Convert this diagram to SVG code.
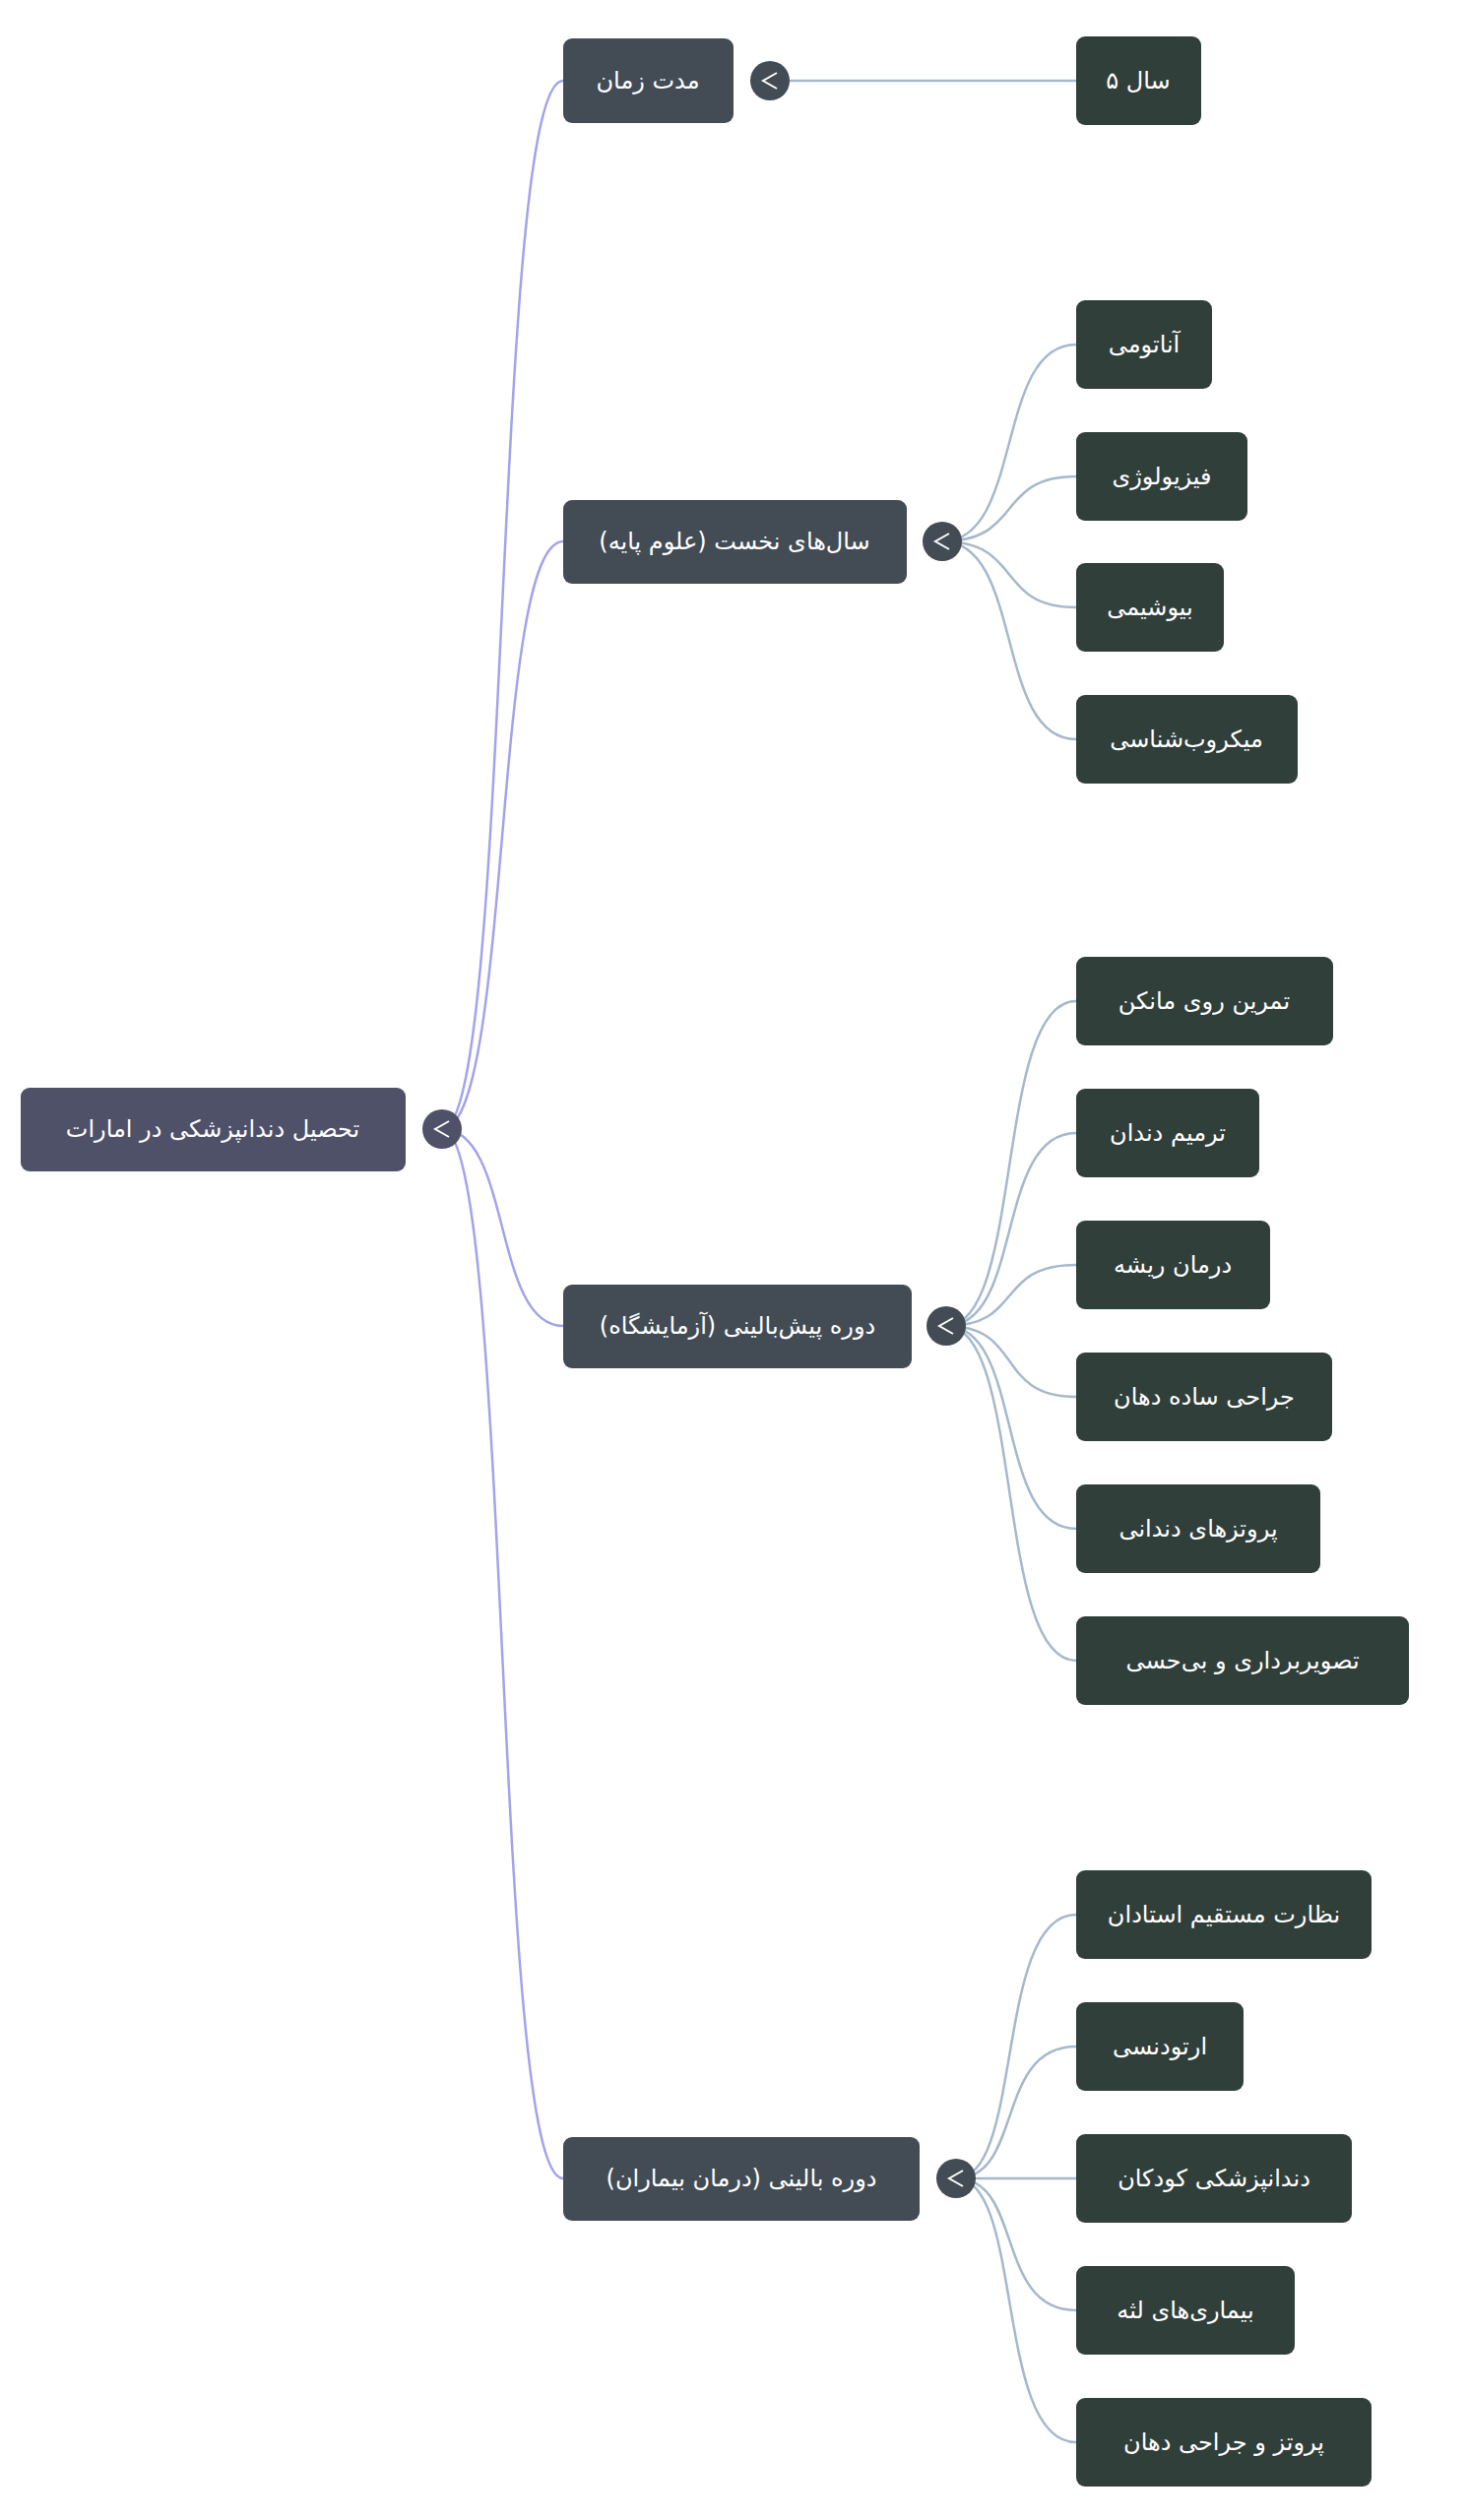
<svg xmlns="http://www.w3.org/2000/svg" width="1492" height="2560" viewBox="0 0 1492 2560">
<style>
text{font-family:"DejaVu Sans","Noto Sans",sans-serif;font-size:24px;fill:#fff;text-anchor:middle;dominant-baseline:central}
.r{fill:#4f5168}.l1{fill:#434c55}.lf{fill:#313f3b}
.c0{fill:none;stroke:#a3a3ec;stroke-width:2.5}.c1{fill:none;stroke:#a6b8cc;stroke-width:2.5}
.tg path{fill:none;stroke:#fff;stroke-width:2}
</style>
<rect width="1492" height="2560" fill="#fff"/>
<g id="connectors">
<path class="c0" d="M449 1147 C520 1147,500 82,572 82"/>
<path class="c0" d="M449 1147 C520 1147,500 550,572 550"/>
<path class="c0" d="M449 1147 C520 1147,500 1347,572 1347"/>
<path class="c0" d="M449 1147 C520 1147,500 2213,572 2213"/>
<path class="c1" d="M782 82 L1093 82"/>
<path class="c1" d="M957 550 C1040 550,1010 350,1093 350"/>
<path class="c1" d="M957 550 C1040 550,1010 484,1093 484"/>
<path class="c1" d="M957 550 C1040 550,1010 617,1093 617"/>
<path class="c1" d="M957 550 C1040 550,1010 751,1093 751"/>
<path class="c1" d="M961 1347 C1040 1347,1010 1017,1093 1017"/>
<path class="c1" d="M961 1347 C1040 1347,1010 1151,1093 1151"/>
<path class="c1" d="M961 1347 C1040 1347,1010 1285,1093 1285"/>
<path class="c1" d="M961 1347 C1040 1347,1010 1419,1093 1419"/>
<path class="c1" d="M961 1347 C1040 1347,1010 1553,1093 1553"/>
<path class="c1" d="M961 1347 C1040 1347,1010 1687,1093 1687"/>
<path class="c1" d="M971 2213 C1040 2213,1010 1945,1093 1945"/>
<path class="c1" d="M971 2213 C1040 2213,1010 2079,1093 2079"/>
<path class="c1" d="M971 2213 C1040 2213,1010 2213,1093 2213"/>
<path class="c1" d="M971 2213 C1040 2213,1010 2347,1093 2347"/>
<path class="c1" d="M971 2213 C1040 2213,1010 2481,1093 2481"/>
</g>
<g id="root"><rect class="r" x="21" y="1105" width="391" height="85" rx="9"/><text x="216" y="1147">تحصیل دندانپزشکی در امارات</text>
<g class="tg"><circle class="r" cx="449" cy="1147" r="20"/><path d="M456 1139 L442 1147 L456 1155"/></g></g>
<g id="n1"><rect class="l1" x="572" y="39" width="173" height="86" rx="9"/><text x="658" y="82">مدت زمان</text>
<g class="tg"><circle class="l1" cx="782" cy="82" r="20"/><path d="M789 74 L775 82 L789 90"/></g></g>
<g id="n2"><rect class="l1" x="572" y="508" width="349" height="85" rx="9"/><text x="746" y="550">سال‌های نخست (علوم پایه)</text>
<g class="tg"><circle class="l1" cx="957" cy="550" r="20"/><path d="M964 542 L950 550 L964 558"/></g></g>
<g id="n3"><rect class="l1" x="572" y="1305" width="354" height="85" rx="9"/><text x="749" y="1347">دوره پیش‌بالینی (آزمایشگاه)</text>
<g class="tg"><circle class="l1" cx="961" cy="1347" r="20"/><path d="M968 1339 L954 1347 L968 1355"/></g></g>
<g id="n4"><rect class="l1" x="572" y="2171" width="362" height="85" rx="9"/><text x="753" y="2213">دوره بالینی (درمان بیماران)</text>
<g class="tg"><circle class="l1" cx="971" cy="2213" r="20"/><path d="M978 2205 L964 2213 L978 2221"/></g></g>
<g id="l1"><rect class="lf" x="1093" y="37" width="127" height="90" rx="9"/><text x="1156" y="82">سال ۵</text></g>
<g id="l2"><rect class="lf" x="1093" y="305" width="138" height="90" rx="9"/><text x="1162" y="350">آناتومی</text></g>
<g id="l3"><rect class="lf" x="1093" y="439" width="174" height="90" rx="9"/><text x="1180" y="484">فیزیولوژی</text></g>
<g id="l4"><rect class="lf" x="1093" y="572" width="150" height="90" rx="9"/><text x="1168" y="617">بیوشیمی</text></g>
<g id="l5"><rect class="lf" x="1093" y="706" width="225" height="90" rx="9"/><text x="1205" y="751">میکروب‌شناسی</text></g>
<g id="l6"><rect class="lf" x="1093" y="972" width="261" height="90" rx="9"/><text x="1223" y="1017">تمرین روی مانکن</text></g>
<g id="l7"><rect class="lf" x="1093" y="1106" width="186" height="90" rx="9"/><text x="1186" y="1151">ترمیم دندان</text></g>
<g id="l8"><rect class="lf" x="1093" y="1240" width="197" height="90" rx="9"/><text x="1191" y="1285">درمان ریشه</text></g>
<g id="l9"><rect class="lf" x="1093" y="1374" width="260" height="90" rx="9"/><text x="1223" y="1419">جراحی ساده دهان</text></g>
<g id="l10"><rect class="lf" x="1093" y="1508" width="248" height="90" rx="9"/><text x="1217" y="1553">پروتزهای دندانی</text></g>
<g id="l11"><rect class="lf" x="1093" y="1642" width="338" height="90" rx="9"/><text x="1262" y="1687">تصویربرداری و بی‌حسی</text></g>
<g id="l12"><rect class="lf" x="1093" y="1900" width="300" height="90" rx="9"/><text x="1243" y="1945">نظارت مستقیم استادان</text></g>
<g id="l13"><rect class="lf" x="1093" y="2034" width="170" height="90" rx="9"/><text x="1178" y="2079">ارتودنسی</text></g>
<g id="l14"><rect class="lf" x="1093" y="2168" width="280" height="90" rx="9"/><text x="1233" y="2213">دندانپزشکی کودکان</text></g>
<g id="l15"><rect class="lf" x="1093" y="2302" width="222" height="90" rx="9"/><text x="1204" y="2347">بیماری‌های لثه</text></g>
<g id="l16"><rect class="lf" x="1093" y="2436" width="300" height="90" rx="9"/><text x="1243" y="2481">پروتز و جراحی دهان</text></g>
</svg>
